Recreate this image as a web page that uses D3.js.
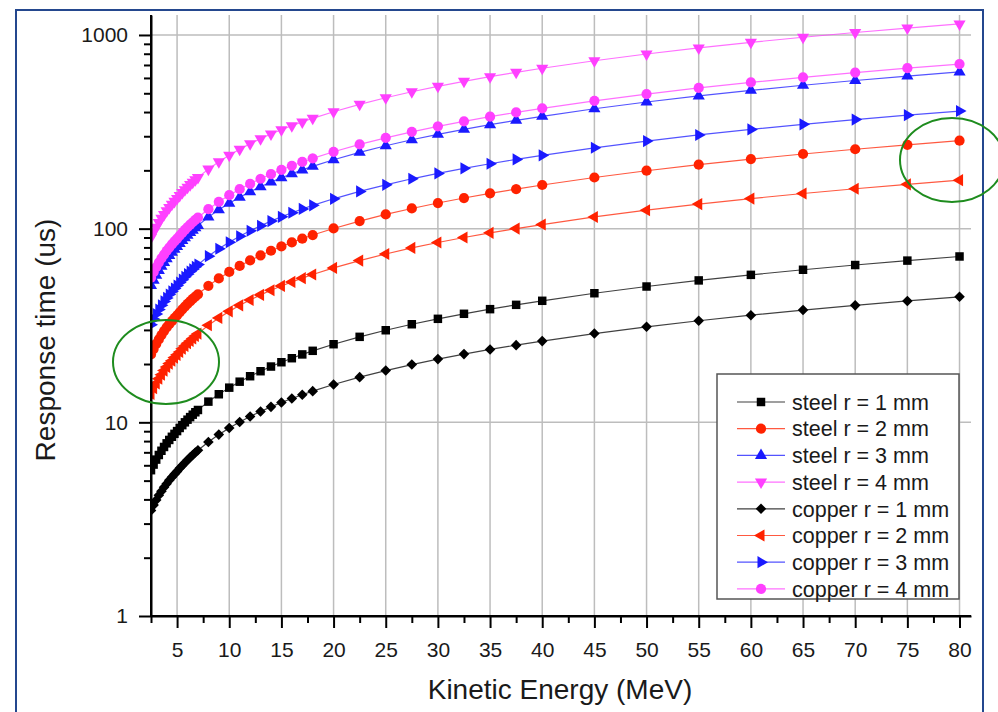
<!DOCTYPE html>
<html>
<head>
<meta charset="utf-8">
<script src="https://cdn.jsdelivr.net/npm/d3@7"></script>
<style>
  html, body { margin: 0; padding: 0; background: #fff; }
  svg { display: block; font-family: "Liberation Sans", Arial, Helvetica, sans-serif; }
</style>
</head>
<body>
<svg id="chart" width="998" height="712"></svg>
<script>
// ---------- DATA ----------
const energies = [2.5,2.75,3,3.25,3.5,3.75,4,4.25,4.5,4.75,5,5.25,5.5,5.75,6,6.25,6.5,6.75,7,
  8,9,10,11,12,13,14,15,16,17,18,20,22.5,25,27.5,30,32.5,35,37.5,40,45,50,55,60,65,70,75,80];

const steel1 = [5.66,6.05,6.42,6.78,7.13,7.46,7.79,8.11,8.42,8.72,9.01,9.35,9.67,10.0,10.32,10.64,10.95,11.27,11.58,
  12.79,13.96,15.1,16.21,17.30,18.36,19.41,20.43,21.43,22.42,23.40,25.31,27.63,29.88,32.09,34.23,36.34,38.40,40.42,42.41,
  46.40,50.26,54.04,57.73,61.34,64.89,68.39,71.83];
const steel2 = [22.4,23.9,25.4,26.8,28.2,29.6,30.9,32.1,33.3,34.5,35.7,37.0,38.3,39.6,40.9,42.1,43.4,44.6,45.8,
  50.7,55.3,59.8,64.2,68.5,72.7,76.9,80.9,84.9,88.8,92.7,100.2,109.4,118.4,127.1,135.6,143.9,152.1,160.1,168.0,
  183.7,199.1,214.0,228.6,242.9,257.0,270.8,284.5];
const steel3 = [50.8,54.2,57.5,60.8,63.9,66.9,69.9,72.7,75.5,78.2,80.8,83.8,86.8,89.7,92.5,95.4,98.2,101.0,103.8,
  114.7,125.2,135.4,145.4,155.1,164.7,174.0,183.2,192.2,201.1,209.8,226.9,247.8,268.0,287.8,307.0,325.8,344.3,362.5,380.3,
  416.0,450.7,484.6,517.6,550.0,581.9,613.2,644.1];
const steel4 = [89.9,96.0,101.8,107.5,113.1,118.4,123.6,128.7,133.6,138.3,143.0,148.3,153.5,158.7,163.7,168.8,173.8,178.8,183.7,
  202.9,221.5,239.6,257.2,274.5,291.4,307.9,324.2,340.1,355.8,371.3,401.5,438.4,474.2,509.2,543.2,576.5,609.3,641.4,673.0,
  736.2,797.5,857.5,916.0,973.4,1029.7,1085.2,1139.8];
const copper1 = [3.51,3.74,3.97,4.20,4.41,4.62,4.82,5.02,5.21,5.40,5.58,5.79,5.99,6.19,6.39,6.59,6.78,6.98,7.17,
  7.92,8.64,9.35,10.04,10.71,11.37,12.02,12.65,13.27,13.88,14.49,15.67,17.11,18.50,19.87,21.20,22.50,23.78,25.03,26.26,
  28.73,31.12,33.46,35.75,37.98,40.18,42.35,44.48];
const copper2 = [14.0,15.0,15.9,16.8,17.6,18.5,19.3,20.1,20.8,21.6,22.3,23.1,24.0,24.8,25.6,26.3,27.1,27.9,28.7,
  31.7,34.6,37.4,40.2,42.8,45.5,48.1,50.6,53.1,55.5,58.0,62.7,68.4,74.0,79.5,84.8,90.0,95.1,100.1,105.0,
  114.9,124.5,133.9,143.0,151.9,160.7,169.4,177.9];
const copper3 = [31.9,34.1,36.2,38.2,40.2,42.1,43.9,45.7,47.4,49.1,50.8,52.7,54.5,56.4,58.2,60.0,61.7,63.5,65.2,
  72.1,78.7,85.1,91.4,97.5,103.5,109.4,115.1,120.8,126.4,131.9,142.6,155.7,168.4,180.9,192.9,204.8,216.4,227.8,239.0,
  261.5,283.3,304.6,325.3,345.7,365.7,385.4,404.8];
const copper4 = [55.8,59.6,63.2,66.8,70.2,73.5,76.8,79.9,82.9,85.9,88.8,92.1,95.3,98.5,101.7,104.8,107.9,111.0,114.1,
  126.0,137.6,148.8,159.8,170.5,181.0,191.2,201.3,211.2,221.0,230.6,249.4,272.3,294.5,316.3,337.4,358.1,378.4,398.3,418.0,
  457.2,495.3,532.6,568.9,604.5,639.5,673.9,707.9];

const seriesNames = ["steel r = 1 mm","steel r = 2 mm","steel r = 3 mm","steel r = 4 mm",
  "copper r = 1 mm","copper r = 2 mm","copper r = 3 mm","copper r = 4 mm"];
const seriesValues = [steel1, steel2, steel3, steel4, copper1, copper2, copper3, copper4];

const xTickLabels = [5,10,15,20,25,30,35,40,45,50,55,60,65,70,75,80];
const xMinorTicks = [2.5,7.5,12.5,17.5,22.5,27.5,32.5,37.5,42.5,47.5,52.5,57.5,62.5,67.5,72.5,77.5];
const yTickLabels = [1,10,100,1000];
const xDomain = [2.5, 81.1];
const yDomain = [1, 1268];
const xTitle = "Kinetic Energy (MeV)";
const yTitle = "Response time (us)";

// ---------- STYLE ----------
const colors = ["#000000","#ff2200","#1a1aff","#ff40ff","#000000","#ff2200","#1a1aff","#ff40ff"];
const shapes = ["square","circle","up","down","diamond","left","right","circle"];
const fontFamily = '"Liberation Sans", Arial, Helvetica, sans-serif';

const svg = d3.select("#chart");
const plot = {left: 151, right: 971, top: 15, bottom: 616};

const x = d3.scaleLinear().domain(xDomain).range([plot.left, plot.right]);
const y = d3.scaleLog().domain(yDomain).range([plot.bottom, plot.top]);

// background
svg.append("rect").attr("width", 998).attr("height", 712).attr("fill", "#fff");

// frame (slide border)
svg.append("rect").attr("x", 16).attr("y", 10).attr("width", 967).attr("height", 740)
  .attr("fill", "none").attr("stroke", "#24478e").attr("stroke-width", 2);

// grid
const grid = svg.append("g").attr("stroke", "#bdbdbd").attr("stroke-width", 1.5);
grid.selectAll("line.v").data(xTickLabels).join("line").attr("class","v")
  .attr("x1", d => x(d)).attr("x2", d => x(d)).attr("y1", plot.top).attr("y2", plot.bottom);
grid.selectAll("line.h").data(yTickLabels.filter(d => d > 1)).join("line").attr("class","h")
  .attr("x1", plot.left).attr("x2", plot.right).attr("y1", d => y(d)).attr("y2", d => y(d));

// clip
svg.append("clipPath").attr("id","clip").append("rect")
  .attr("x", plot.left).attr("y", 0).attr("width", plot.right - plot.left + 10).attr("height", plot.bottom);

function symbolPath(shape) {
  switch (shape) {
    case "square": return d3.symbol(d3.symbolSquare, 72)();
    case "circle": return d3.symbol(d3.symbolCircle, 82)();
    case "diamond": return d3.symbol(d3.symbolSquare, 56)();
    default: return d3.symbol(d3.symbolTriangle, 64)();
  }
}
function symbolRotate(shape) {
  return {square: 0, circle: 0, diamond: 45, up: 0, down: 180, left: -90, right: 90}[shape];
}

const dataG = svg.append("g").attr("clip-path", "url(#clip)");
const line = d3.line().x(d => x(d[0])).y(d => y(d[1]));

seriesValues.forEach((vals, i) => {
  const pts = energies.map((e, k) => [e, vals[k]]);
  const g = dataG.append("g");
  g.append("path").datum(pts).attr("d", line)
    .attr("fill", "none").attr("stroke", colors[i]).attr("stroke-width", 1.2).attr("stroke-opacity", 0.75);
  g.selectAll("path.m").data(pts).join("path").attr("class","m")
    .attr("d", symbolPath(shapes[i]))
    .attr("transform", d => `translate(${x(d[0])},${y(d[1])}) rotate(${symbolRotate(shapes[i])})`)
    .attr("fill", colors[i]);
});

// axes
const xAxis = svg.append("g").attr("transform", `translate(0,${plot.bottom})`)
  .call(d3.axisBottom(x).tickValues(xTickLabels).tickSize(12).tickPadding(14).tickSizeOuter(0));
const xMinor = svg.append("g").attr("transform", `translate(0,${plot.bottom})`)
  .call(d3.axisBottom(x).tickValues(xMinorTicks).tickSize(7).tickFormat("").tickSizeOuter(0));

const yMinorVals = [];
[1,10,100,1000].forEach(dec => { for (let m = 2; m <= 9; m++) { if (dec*m <= yDomain[1]) yMinorVals.push(dec*m); } });
const yAxis = svg.append("g").attr("transform", `translate(${plot.left},0)`)
  .call(d3.axisLeft(y).tickValues(yTickLabels).tickFormat(d3.format("d")).tickSize(12).tickPadding(11).tickSizeOuter(0));
const yMinor = svg.append("g").attr("transform", `translate(${plot.left},0)`)
  .call(d3.axisLeft(y).tickValues(yMinorVals).tickSize(7).tickFormat("").tickSizeOuter(0));

[xAxis, xMinor, yAxis, yMinor].forEach(a => {
  a.selectAll(".domain").attr("stroke", "#000").attr("stroke-width", 2);
  a.selectAll(".tick line").attr("stroke", "#000").attr("stroke-width", 2);
  a.selectAll(".tick text").attr("font-size", 21).attr("fill", "#1a1a1a").attr("font-family", fontFamily);
});
xAxis.select(".domain").attr("d", `M${plot.left - 1},0H${plot.right}`);
yAxis.select(".domain").attr("d", `M0,${plot.top}V${plot.bottom + 1}`);

// axis titles
svg.append("text").attr("x", 560).attr("y", 699).attr("text-anchor", "middle")
  .attr("font-size", 28).attr("fill", "#1a1a1a").text(xTitle);
svg.append("text").attr("transform", "translate(55,340) rotate(-90)").attr("text-anchor", "middle")
  .attr("font-size", 28).attr("fill", "#1a1a1a").text(yTitle);

// legend
const lg = svg.append("g");
lg.append("rect").attr("x", 717).attr("y", 374).attr("width", 242).attr("height", 225)
  .attr("fill", "#fff").attr("stroke", "#555").attr("stroke-width", 1.5);
seriesNames.forEach((name, i) => {
  const cy = 402 + i * 26.7;
  lg.append("line").attr("x1", 737).attr("x2", 785).attr("y1", cy).attr("y2", cy)
    .attr("stroke", colors[i]).attr("stroke-width", 1.2).attr("stroke-opacity", 0.75);
  lg.append("path").attr("d", symbolPath(shapes[i]))
    .attr("transform", `translate(761,${cy}) rotate(${symbolRotate(shapes[i])})`)
    .attr("fill", colors[i]);
  lg.append("text").attr("x", 792).attr("y", cy).attr("dy", "0.36em")
    .attr("font-size", 21.5).attr("fill", "#1a1a1a").text(name);
});

// annotation ellipses
svg.append("ellipse").attr("cx", 166).attr("cy", 362).attr("rx", 53).attr("ry", 42)
  .attr("fill", "none").attr("stroke", "#1e8c1e").attr("stroke-width", 2);
svg.append("ellipse").attr("cx", 952).attr("cy", 160).attr("rx", 52).attr("ry", 42)
  .attr("fill", "none").attr("stroke", "#1e8c1e").attr("stroke-width", 2);
</script>
</body>
</html>
